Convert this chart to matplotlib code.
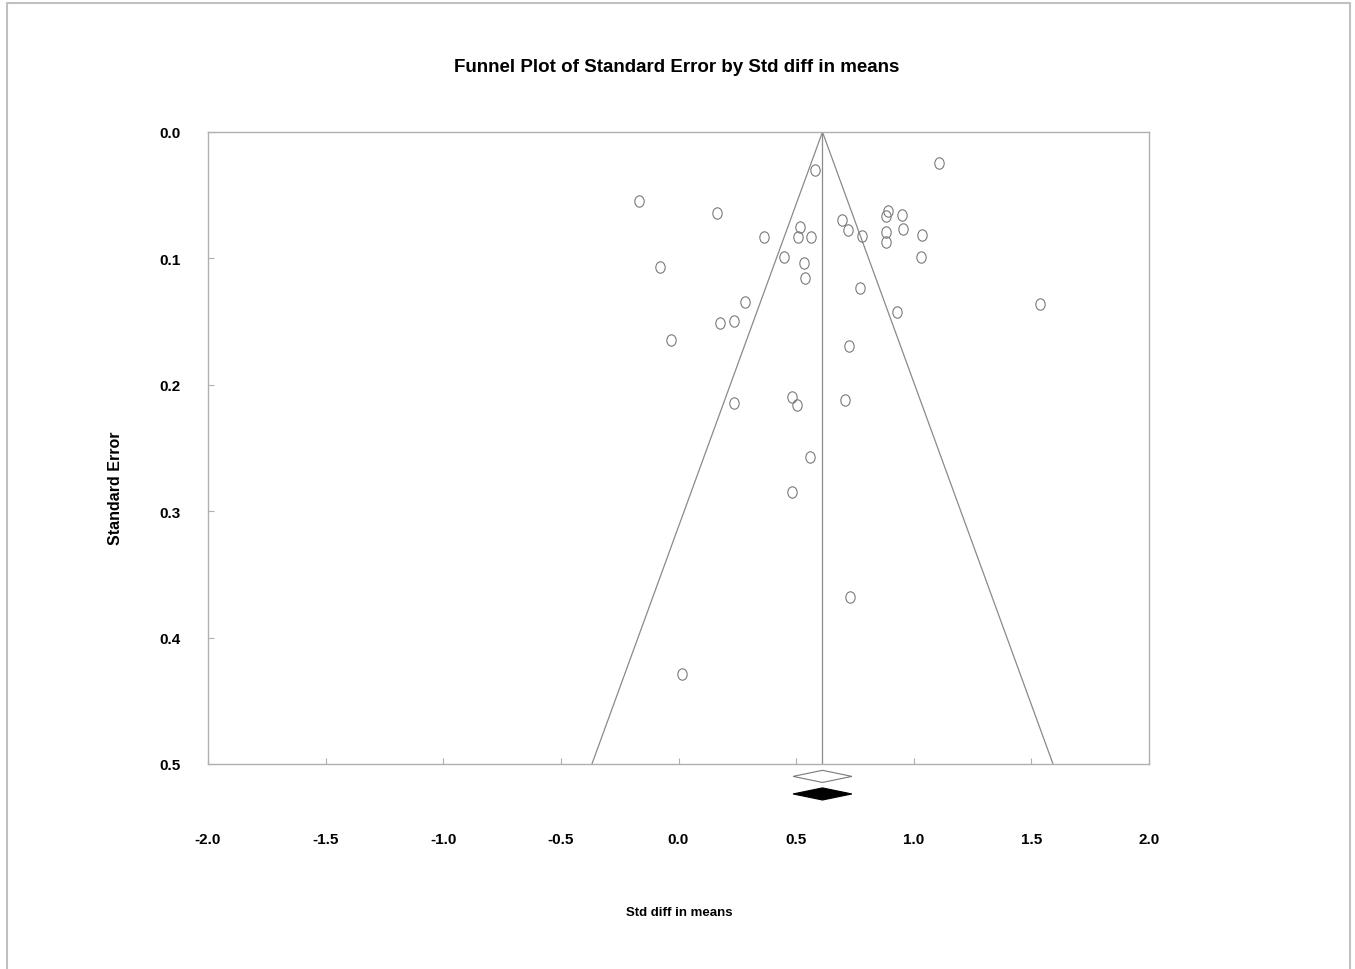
import numpy as np
import matplotlib
matplotlib.use("Agg")
import matplotlib.pyplot as plt
from matplotlib.path import Path
from matplotlib.transforms import Affine2D
from matplotlib.patches import Polygon
from matplotlib.lines import Line2D

# ===== Study data =====
std_diff = [1.107, 0.580, -0.168, 0.164, 0.891, 0.882, 0.950, 0.695, 0.516, 0.722,
            0.880, 0.954, 0.363, 0.510, 0.563, 0.780, 1.035, 0.883, 0.448, 1.031,
            0.532, -0.079, 0.539, 0.770, 0.284, 1.537, 0.929, 0.176, 0.236, 0.725,
            -0.032, 0.482, 0.504, 0.236, 0.708, 0.559, 0.482, 0.729, 0.015]
std_err = [0.0242, 0.0300, 0.0544, 0.0641, 0.0626, 0.0668, 0.0660, 0.0696, 0.0750, 0.0773,
           0.0789, 0.0765, 0.0833, 0.0833, 0.0833, 0.0823, 0.0817, 0.0870, 0.0991, 0.0989,
           0.1039, 0.1068, 0.1152, 0.1237, 0.1347, 0.1361, 0.1426, 0.1510, 0.1495, 0.1690,
           0.1646, 0.2097, 0.2160, 0.2144, 0.2120, 0.2571, 0.2848, 0.3679, 0.4288]

# summary estimate (observed and adjusted) with its confidence limits
summary_obs = [0.612, 0.487, 0.737]
summary_adj = [0.612, 0.487, 0.737]

x_ticks = [-2.0, -1.5, -1.0, -0.5, 0.0, 0.5, 1.0, 1.5, 2.0]
y_ticks = [0.0, 0.1, 0.2, 0.3, 0.4, 0.5]

narrow = ['Liberation Sans Narrow', 'Liberation Sans', 'DejaVu Sans']
wide = ['Liberation Sans', 'DejaVu Sans']

fig = plt.figure(figsize=(13.55, 9.70), dpi=100)
ax = fig.add_axes([208 / 1355, 1 - 765 / 970, 941 / 1355, 632 / 970])

# funnel
se_max = 0.5
mid = summary_obs[0]
ax.plot([mid - 1.96 * se_max, mid, mid + 1.96 * se_max], [se_max, 0, se_max],
        color='#8a8a8a', lw=0.9)
ax.plot([mid, mid], [0, se_max], color='#8a8a8a', lw=0.9)

# slightly tall circles
oval = Path.unit_circle().transformed(Affine2D().scale(0.82, 1.0))
ax.plot(std_diff, std_err, linestyle='none', marker=oval, markersize=8.2,
        markerfacecolor='none', markeredgecolor='#7a7a7a', markeredgewidth=0.8)

# diamonds below the axis
def diamond(est, lo, hi, yc, h, fc):
    pts = [(lo, yc), (est, yc - h), (hi, yc), (est, yc + h)]
    ax.add_patch(Polygon(pts, closed=True, facecolor=fc, edgecolor='#7a7a7a' if fc == 'white' else 'black',
                         lw=0.8, clip_on=False))

diamond(summary_obs[0], summary_obs[1], summary_obs[2], 0.5098, 0.0048, 'white')
diamond(summary_adj[0], summary_adj[1], summary_adj[2], 0.5237, 0.0048, 'black')

ax.set_xlim(-2.0, 2.0)
ax.set_ylim(0.5, 0.0)
ax.set_xticks(x_ticks)
ax.set_xticklabels([f'{v:.1f}' for v in x_ticks])
ax.set_yticks(y_ticks)
ax.set_yticklabels([f'{v:.1f}' for v in y_ticks])

for s in ax.spines.values():
    s.set_color('#b0b0b0')
    s.set_linewidth(1.0)

ax.tick_params(axis='x', direction='in', length=4, width=0.8, color='#b0b0b0', pad=49)
ax.tick_params(axis='y', direction='in', length=4, width=0.8, color='#b0b0b0', pad=20)
for lab in ax.get_xticklabels() + ax.get_yticklabels():
    lab.set_family(narrow)
    lab.set_fontweight('bold')
    lab.set_fontsize(11)

fig.text(677 / 1355, 1 - 68 / 970, 'Funnel Plot of Standard Error by Std diff in means',
         ha='center', va='center', family=narrow, fontweight='bold', fontsize=13.5)
fig.text(679 / 1355, 1 - 913 / 970, 'Std diff in means',
         ha='center', va='center', family=narrow, fontweight='bold', fontsize=9.5)
fig.text(115 / 1355, 1 - 488 / 970, 'Standard Error', rotation=90,
         ha='center', va='center', family=wide, fontweight='bold', fontsize=11.5)

# outer frame (left, top, right)
fx0, fx1, fy = 6.5 / 1355, 1349.5 / 1355, 1 - 3.5 / 970
fig.add_artist(Line2D([fx0, fx0, fx1, fx1], [0, fy, fy, 0], transform=fig.transFigure,
                      color='#c0c0c0', lw=1.5))

fig.savefig('out.png', dpi=100, facecolor='white')
